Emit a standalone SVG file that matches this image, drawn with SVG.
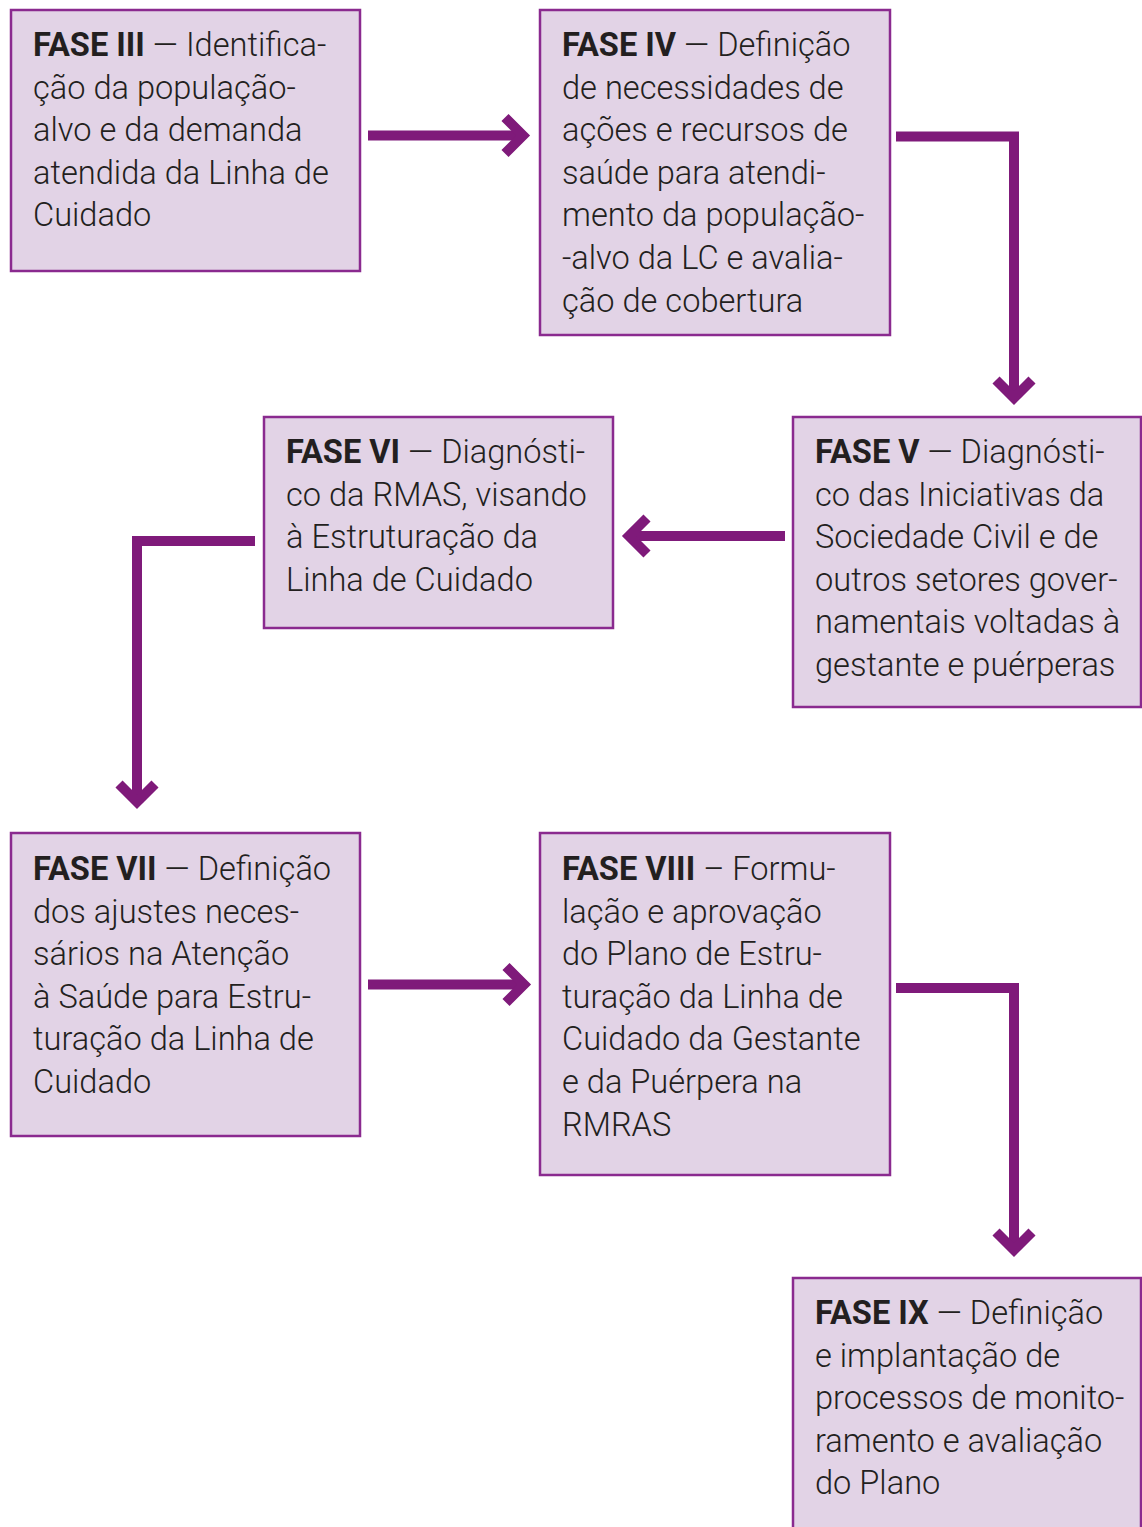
<svg xmlns="http://www.w3.org/2000/svg" width="1142" height="1527" viewBox="0 0 1142 1527">
<style>
.box{fill:#e2d3e6;stroke:#8a2a8f;stroke-width:2.5}
.t{font-family:Roboto,"Noto Sans","Liberation Sans",sans-serif;font-size:32.6px;font-weight:300;fill:#231f20}
.b{font-weight:700}
.c{fill:none;stroke:#7f1a7a;stroke-width:10;stroke-linejoin:miter;stroke-miterlimit:10}
</style>
<rect width="1142" height="1527" fill="#ffffff"/>
<g id="connectors">
<path class="c" d="M368 135.5H520"/>
<path class="c" d="M505 117.5L523 135.5L505 153.5"/>
<path class="c" d="M896 136.5H1014V392"/>
<path class="c" d="M996 380L1014 398L1032 380"/>
<path class="c" d="M785 536H633"/>
<path class="c" d="M647 518L629 536L647 554"/>
<path class="c" d="M255 541H137V796"/>
<path class="c" d="M119 784L137 802L155 784"/>
<path class="c" d="M368 984.5H520"/>
<path class="c" d="M506 966.5L524 984.5L506 1002.5"/>
<path class="c" d="M896 988H1014V1244"/>
<path class="c" d="M996 1232L1014 1250L1032 1232"/>
</g>
<g id="fase3">
<rect class="box" x="11" y="10" width="349" height="261"/>
<text class="t" x="33" y="56"><tspan class="b">FASE III</tspan> — Identifica-</text>
<text class="t" x="33" y="98.6">ção da população-</text>
<text class="t" x="33" y="141.2">alvo e da demanda</text>
<text class="t" x="33" y="183.8">atendida da Linha de</text>
<text class="t" x="33" y="226.4">Cuidado</text>
</g>
<g id="fase4">
<rect class="box" x="540" y="10" width="350" height="325"/>
<text class="t" x="562" y="56"><tspan class="b">FASE IV</tspan> — Definição</text>
<text class="t" x="562" y="98.6">de necessidades de</text>
<text class="t" x="562" y="141.2">ações e recursos de</text>
<text class="t" x="562" y="183.8">saúde para atendi-</text>
<text class="t" x="562" y="226.4">mento da população-</text>
<text class="t" x="562" y="269">-alvo da LC e avalia-</text>
<text class="t" x="562" y="311.6">ção de cobertura</text>
</g>
<g id="fase5">
<rect class="box" x="793" y="417" width="348" height="290"/>
<text class="t" x="815" y="463"><tspan class="b">FASE V</tspan> — Diagnósti-</text>
<text class="t" x="815" y="505.6">co das Iniciativas da</text>
<text class="t" x="815" y="548.2">Sociedade Civil e de</text>
<text class="t" x="815" y="590.8">outros setores gover-</text>
<text class="t" x="815" y="633.4">namentais voltadas à</text>
<text class="t" x="815" y="676">gestante e puérperas</text>
</g>
<g id="fase6">
<rect class="box" x="264" y="417" width="349" height="211"/>
<text class="t" x="286" y="463"><tspan class="b">FASE VI</tspan> — Diagnósti-</text>
<text class="t" x="286" y="505.6">co da RMAS, visando</text>
<text class="t" x="286" y="548.2">à Estruturação da</text>
<text class="t" x="286" y="590.8">Linha de Cuidado</text>
</g>
<g id="fase7">
<rect class="box" x="11" y="833" width="349" height="303"/>
<text class="t" x="33" y="880"><tspan class="b">FASE VII</tspan> — Definição</text>
<text class="t" x="33" y="922.6">dos ajustes neces-</text>
<text class="t" x="33" y="965.2">sários na Atenção</text>
<text class="t" x="33" y="1007.8">à Saúde para Estru-</text>
<text class="t" x="33" y="1050.4">turação da Linha de</text>
<text class="t" x="33" y="1093">Cuidado</text>
</g>
<g id="fase8">
<rect class="box" x="540" y="833" width="350" height="342"/>
<text class="t" x="562" y="880"><tspan class="b">FASE VIII</tspan> – Formu-</text>
<text class="t" x="562" y="922.6">lação e aprovação</text>
<text class="t" x="562" y="965.2">do Plano de Estru-</text>
<text class="t" x="562" y="1007.8">turação da Linha de</text>
<text class="t" x="562" y="1050.4">Cuidado da Gestante</text>
<text class="t" x="562" y="1093">e da Puérpera na</text>
<text class="t" x="562" y="1135.6">RMRAS</text>
</g>
<g id="fase9">
<rect class="box" x="793" y="1278" width="348" height="260"/>
<text class="t" x="815" y="1324"><tspan class="b">FASE IX</tspan> — Definição</text>
<text class="t" x="815" y="1366.6">e implantação de</text>
<text class="t" x="815" y="1409.2">processos de monito-</text>
<text class="t" x="815" y="1451.8">ramento e avaliação</text>
<text class="t" x="815" y="1494.4">do Plano</text>
</g>
</svg>
